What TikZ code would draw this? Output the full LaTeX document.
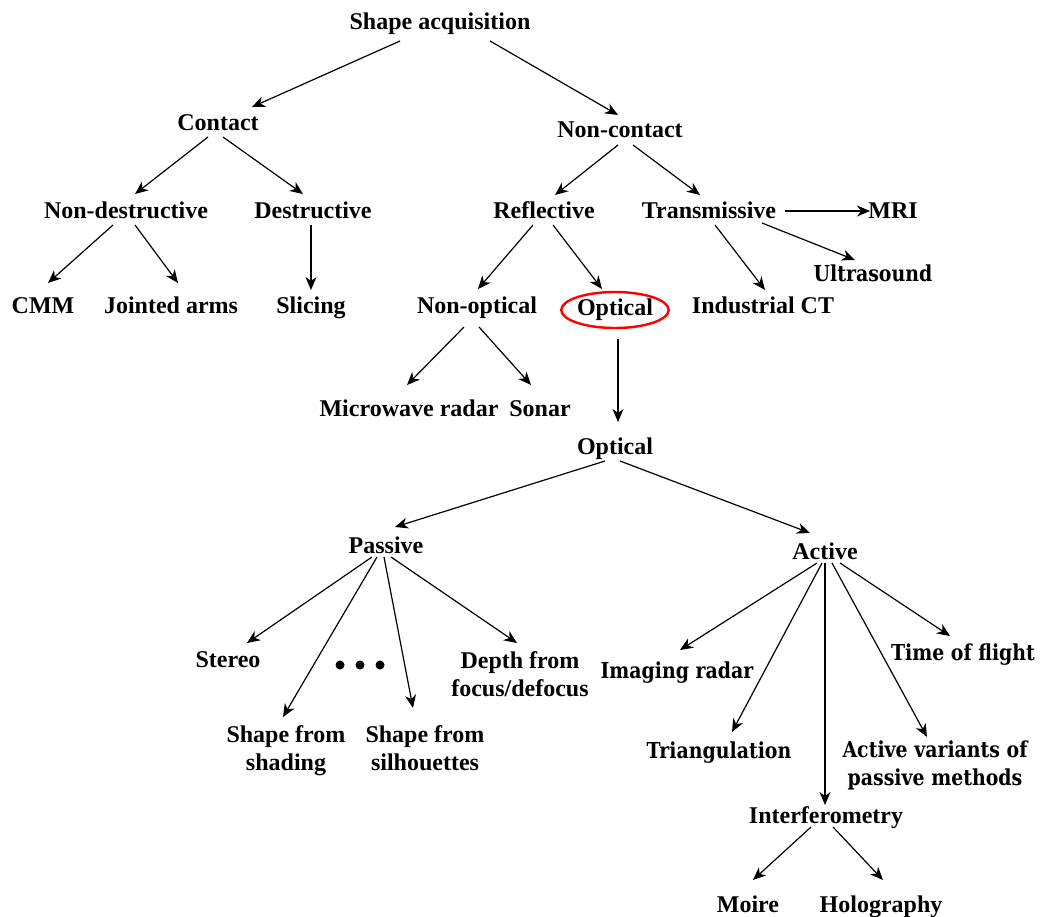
\documentclass[tikz,border=0pt]{standalone}
\usepackage{fontspec}
\setmainfont{Liberation Serif}
\newfontfamily\camfont[FakeStretch=0.86]{DejaVu Serif}
\usetikzlibrary{arrows.meta,calc,shapes.geometric}
\begin{document}
\begin{tikzpicture}[x=1pt,y=-1pt,
  lbl/.style={font=\fontsize{24}{28}\selectfont\bfseries, inner sep=0pt, anchor=base, align=center},
  cam/.style={font=\fontsize{22}{28}\selectfont\camfont\bfseries, inner sep=0pt, anchor=base, align=center},
  arr/.style={-{Stealth[length=13pt,width=11pt,inset=4pt]}, line width=1.2pt},
  ring/.style={draw=red, line width=2.4pt, ellipse, minimum width=96pt, minimum height=36pt, inner sep=0pt,
    font=\fontsize{24}{28}\selectfont\bfseries}]
\useasboundingbox (0,0) rectangle (1040,916);
% nodes
\node[lbl] (sa) at (440,29) {Shape acquisition};
\node[lbl] (contact) at (218,130) {Contact};
\node[lbl] (noncontact) at (620,137) {Non-contact};
\node[lbl] (nondestr) at (126,218) {Non-destructive};
\node[lbl] (destr) at (313,218) {Destructive};
\node[lbl] (refl) at (544,218) {Reflective};
\node[lbl] (trans) at (709,218) {Transmissive};
\node[lbl] (mri) at (893,218) {MRI};
\node[lbl] (cmm) at (43,313) {CMM};
\node[lbl] (jointed) at (171,313) {Jointed arms};
\node[lbl] (slicing) at (311,313) {Slicing};
\node[lbl] (nonopt) at (477,313) {Non-optical};
\node[ring] (optc) at (615,310) {Optical};
\node[lbl] (indct) at (763,313) {Industrial CT};
\node[cam] (ultra) at (873,281) {Ultrasound};
\node[lbl] (micro) at (409,416) {Microwave radar};
\node[lbl] (sonar) at (540,416) {Sonar};
\node[lbl] (opt) at (615,454) {Optical};
\node[lbl] (passive) at (386,553) {Passive};
\node[lbl] (active) at (825,559) {Active};
\node[lbl] (stereo) at (228,667) {Stereo};
\node[cam] (tof) at (963,660) {Time of flight};
\node[cam] (imaging) at (677,678) {Imaging radar};
\node[lbl] (depth) at (520,696) {Depth from\\focus/defocus};
\node[lbl] (shading) at (286,770) {Shape from\\shading};
\node[lbl] (silh) at (425,770) {Shape from\\silhouettes};
\node[cam] (triang) at (719,758) {Triangulation};
\node[cam] (variants) at (935,785) {Active variants of\\passive methods};
\node[lbl] (interf) at (826,823) {Interferometry};
\node[lbl] (moire) at (748,912) {Moire};
\node[lbl] (holo) at (881,912) {Holography};
% dots
\fill (340,665) circle (4.5pt);
\fill (360,665) circle (4.5pt);
\fill (380,665) circle (4.5pt);
% connectors
\draw[arr] ($(sa.base)+(-40,12)$) -- ($(contact.base)+(34,-23)$);
\draw[arr] ($(sa.base)+(50,12)$) -- ($(noncontact.base)+(-2,-22)$);
\draw[arr] ($(contact.base)+(-10,7)$) -- ($(nondestr.base)+(9,-24)$);
\draw[arr] ($(contact.base)+(5,7)$) -- ($(destr.base)+(-10,-24)$);
\draw[arr] ($(noncontact.base)+(-2,8)$) -- ($(refl.base)+(11,-23)$);
\draw[arr] ($(noncontact.base)+(13,8)$) -- ($(trans.base)+(-9,-23)$);
\draw[arr] ($(trans.base)+(76,-7)$) -- ($(mri.base)+(-23,-7)$);
\draw[arr] ($(trans.base)+(53,5)$) -- ($(ultra.base)+(-18,-21)$);
\draw[arr] ($(trans.base)+(6,7)$) -- ($(indct.base)+(2,-23)$);
\draw[arr] ($(nondestr.base)+(-13,7)$) -- ($(cmm.base)+(5,-30)$);
\draw[arr] ($(nondestr.base)+(9,7)$) -- ($(jointed.base)+(7,-30)$);
\draw[arr] ($(destr.base)+(-2,7)$) -- ($(slicing.base)+(0,-23)$);
\draw[arr] ($(refl.base)+(-11,7)$) -- ($(nonopt.base)+(1,-24)$);
\draw[arr] ($(refl.base)+(9,7)$) -- ($(optc.center)+(-13,-21)$);
\draw[arr] ($(nonopt.base)+(-13,14)$) -- ($(micro.base)+(-2,-31)$);
\draw[arr] ($(nonopt.base)+(2,14)$) -- ($(sonar.base)+(-9,-31)$);
\draw[arr] ($(optc.center)+(3,29)$) -- ($(opt.base)+(3,-32)$);
\draw[arr] ($(opt.base)+(-10,7)$) -- ($(passive.base)+(9,-26)$);
\draw[arr] ($(opt.base)+(5,7)$) -- ($(active.base)+(-15,-26)$);
\draw[arr] ($(passive.base)+(-14,4)$) -- ($(stereo.base)+(19,-24)$);
\draw[arr] ($(passive.base)+(-9,4)$) -- ($(shading.base)+(-3,-53)$);
\draw[arr] ($(passive.base)+(-2,4)$) -- ($(silh.base)+(-12,-62)$);
\draw[arr] ($(passive.base)+(5,4)$) -- ($(depth.base)+(-3,-53)$);
\draw[arr] ($(active.base)+(-8,4)$) -- ($(imaging.base)+(3,-28)$);
\draw[arr] ($(active.base)+(-3,4)$) -- ($(triang.base)+(13,-26)$);
\draw[arr] ($(active.base)+(0,4)$) -- ($(interf.base)+(-1,-18)$);
\draw[arr] ($(active.base)+(7,4)$) -- ($(variants.base)+(-8,-48)$);
\draw[arr] ($(active.base)+(15,4)$) -- ($(tof.base)+(-13,-24)$);
\draw[arr] ($(interf.base)+(-15,4)$) -- ($(moire.base)+(5,-32)$);
\draw[arr] ($(interf.base)+(7,4)$) -- ($(holo.base)+(2,-32)$);
\end{tikzpicture}
\end{document}
